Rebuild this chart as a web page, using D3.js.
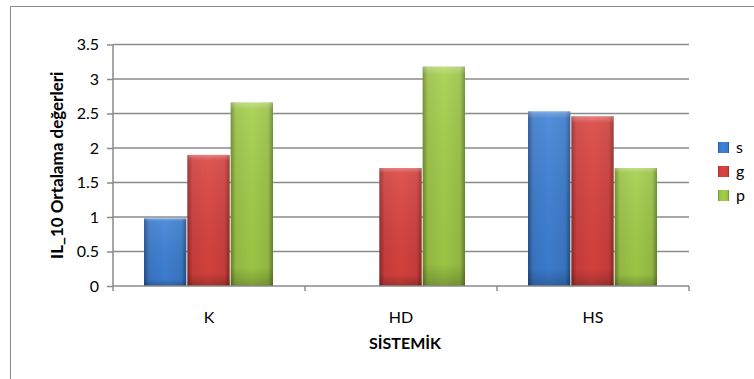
<!DOCTYPE html>
<html>
<head>
<meta charset="utf-8">
<script src="https://cdn.jsdelivr.net/npm/d3@7"></script>
<style>
  body { margin: 0; background: #fff; }
  text { font-family: Lato, "Open Sans", sans-serif; fill: #000; }
</style>
</head>
<body>
<div id="chart"></div>
<script>
// data
var categories = ["K", "HD", "HS"];
var seriesNames = ["s", "g", "p"];
var sValues = [0.98, null, 2.53];
var gValues = [1.90, 1.71, 2.46];
var pValues = [2.66, 3.18, 1.71];
var yTicks = [0, 0.5, 1, 1.5, 2, 2.5, 3, 3.5];
var colors = ["#3a78c8", "#cc3e3b", "#98c044"];
var darks = ["#22508c", "#922826", "#688628"];

function init(){
	var w = 754, h = 379;
	var left = 113, right = 689, top = 44.5, bottom = 286;

	var rows = categories.map(function(c, i){
		return { cat: c, s: sValues[i], g: gValues[i], p: pValues[i] };
	});

	var svg = d3.select("#chart").append("svg")
				.attr("width", w)
				.attr("height", h);

	// gradients for the bevelled bars
	var defs = svg.append("defs");
	seriesNames.forEach(function(k, i){
		var gr = defs.append("linearGradient").attr("id", "grad" + k)
					.attr("x1", "0").attr("x2", "1").attr("y1", "0").attr("y2", "0");
		gr.append("stop").attr("offset", "0").attr("stop-color", darks[i]);
		gr.append("stop").attr("offset", "0.12").attr("stop-color", colors[i]);
		gr.append("stop").attr("offset", "0.5").attr("stop-color", d3.color(colors[i]).brighter(0.2));
		gr.append("stop").attr("offset", "0.88").attr("stop-color", colors[i]);
		gr.append("stop").attr("offset", "1").attr("stop-color", darks[i]);
	});
	var vg = defs.append("linearGradient").attr("id", "shade")
				.attr("x1", "0").attr("x2", "0").attr("y1", "0").attr("y2", "1");
	vg.append("stop").attr("offset", "0").attr("stop-color", "#fff").attr("stop-opacity", 0.35);
	vg.append("stop").attr("offset", "0.04").attr("stop-color", "#fff").attr("stop-opacity", 0.1);
	vg.append("stop").attr("offset", "0.9").attr("stop-color", "#000").attr("stop-opacity", 0.05);
	vg.append("stop").attr("offset", "1").attr("stop-color", "#000").attr("stop-opacity", 0.25);

	// outer border
	svg.append("path")
		.attr("d", "M10.5," + h + "V6.5H" + w)
		.attr("fill", "none")
		.attr("stroke", "#8c8c8c");

	var x0 = d3.scaleBand().domain(categories).range([left, right]);
	var groupW = 130;
	var x1 = d3.scaleBand().domain(seriesNames).range([0, groupW]);
	var y = d3.scaleLinear().domain([0, 3.5]).range([bottom, top]);

	// gridlines
	svg.append("g").selectAll("line")
		.data(yTicks.slice(1))
		.enter().append("line")
		.attr("x1", left).attr("x2", right)
		.attr("y1", function(d){ return y(d); })
		.attr("y2", function(d){ return y(d); })
		.attr("stroke", "#8a8a8a")
		.attr("stroke-width", 1.5);

	// y axis
	var yAxis = svg.append("g")
		.attr("transform", "translate(" + left + ",0)")
		.call(d3.axisLeft(y).tickValues(yTicks).tickSize(6).tickPadding(8).tickFormat(d3.format("")));
	yAxis.select(".domain").attr("stroke", "#8a8a8a").attr("stroke-width", 1.5).attr("d", "M0," + bottom + "V" + top);
	yAxis.selectAll(".tick line").attr("stroke", "#8a8a8a").attr("stroke-width", 1.5);
	yAxis.selectAll("text").style("font-size", "16px").style("font-family", "Lato, sans-serif").attr("fill", "#000");

	// bars
	var groups = svg.append("g").selectAll("g")
		.data(rows)
		.enter().append("g")
		.attr("transform", function(d){
			return "translate(" + (x0(d.cat) + (x0.bandwidth() - groupW) / 2) + ",0)";
		});

	var bars = groups.selectAll("g")
		.data(function(d){
			return seriesNames.map(function(k, i){ return { key: k, i: i, value: d[k] }; })
				.filter(function(e){ return e.value != null; });
		})
		.enter().append("g");

	bars.append("rect")
		.attr("x", function(d){ return x1(d.key); })
		.attr("y", function(d){ return y(d.value); })
		.attr("width", x1.bandwidth() - 1)
		.attr("height", function(d){ return bottom - y(d.value); })
		.attr("fill", function(d){ return "url(#grad" + d.key + ")"; });
	bars.append("rect")
		.attr("x", function(d){ return x1(d.key); })
		.attr("y", function(d){ return y(d.value); })
		.attr("width", x1.bandwidth() - 1)
		.attr("height", function(d){ return bottom - y(d.value); })
		.attr("fill", "url(#shade)");

	// x axis
	var xAxis = svg.append("g")
		.attr("transform", "translate(0," + bottom + ")");
	xAxis.append("line")
		.attr("x1", left).attr("x2", right)
		.attr("stroke", "#8a8a8a").attr("stroke-width", 1.5);
	xAxis.selectAll(".tk")
		.data(categories.concat(["end"]))
		.enter().append("line")
		.attr("x1", function(d, i){ return left + i * x0.step(); })
		.attr("x2", function(d, i){ return left + i * x0.step(); })
		.attr("y1", 0).attr("y2", 5)
		.attr("stroke", "#8a8a8a").attr("stroke-width", 1.5);
	xAxis.selectAll(".lbl")
		.data(categories)
		.enter().append("text")
		.attr("x", function(d){ return x0(d) + x0.bandwidth() / 2; })
		.attr("y", 37)
		.attr("text-anchor", "middle")
		.style("font-size", "16px")
		.text(function(d){ return d; });

	// axis titles
	svg.append("text")
		.attr("x", (left + right) / 2 + 4)
		.attr("y", 349)
		.attr("text-anchor", "middle")
		.style("font-size", "16px")
		.style("font-weight", "bold")
		.text("SİSTEMİK");

	svg.append("text")
		.attr("transform", "translate(63," + ((top + bottom) / 2) + ") rotate(-90)")
		.attr("text-anchor", "middle")
		.style("font-size", "17px")
		.style("font-weight", "bold")
		.text("IL_10 Ortalama değerleri");

	// legend
	var legend = svg.append("g").selectAll("g")
		.data(seriesNames)
		.enter().append("g")
		.attr("transform", function(d, i){ return "translate(718," + (142 + i * 24) + ")"; });
	legend.append("rect")
		.attr("width", 11).attr("height", 11)
		.attr("fill", function(d){ return "url(#grad" + d + ")"; });
	legend.append("text")
		.attr("x", 18).attr("y", 11)
		.style("font-size", "16px")
		.text(function(d){ return d; });
}

window.onload = init;
</script>
</body>
</html>
